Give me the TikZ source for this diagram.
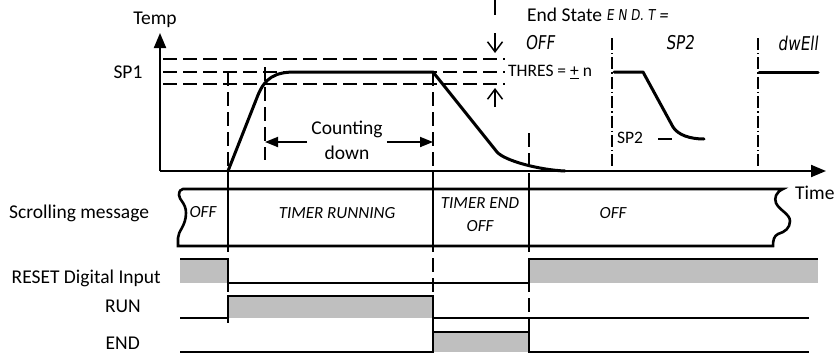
\documentclass[tikz,border=0pt]{standalone}
\usepackage{fontspec}
\setmainfont{Carlito}
\newfontfamily\segfont[FakeSlant=0.12,FakeStretch=0.8]{DejaVu Sans}
\usetikzlibrary{arrows.meta}
\begin{document}
\begin{tikzpicture}[x=1pt,y=-1pt,
  lbl/.style={font=\fontsize{19.5}{25}\selectfont, inner sep=0pt},
  small/.style={font=\fontsize{17.5}{19}\selectfont, inner sep=0pt},
  msg/.style={font=\fontsize{17}{23}\selectfont\itshape, inner sep=0pt},
  seg/.style={font=\segfont\fontsize{19}{20}\selectfont, inner sep=0pt},
  dsh/.style={line width=1.4pt, dash pattern=on 14pt off 6pt},
  dd/.style={line width=1.4pt, dash pattern=on 12pt off 3pt on 1.4pt off 3pt},
  curve/.style={line width=3pt, line join=round, line cap=round},
  sig/.style={line width=2.6pt, line join=miter},
  gfill/.style={fill=black!25, draw=none},
  axis/.style={line width=2pt, -{Triangle[length=15pt,width=12pt]}},
  barb/.style={line width=1.5pt, -{Straight Barb[length=10pt,width=15pt]}},
  cdarrow/.style={line width=1.8pt, -{Triangle[length=13pt,width=10pt]}},
]
\useasboundingbox (0,0) rectangle (835,354);

% ---------- axes ----------
\coordinate (O) at (160,171);
\coordinate (ytip) at (160,33);
\coordinate (xtip) at (826,171);
\draw[axis] (O) -- (ytip);
\draw[axis] (O) -- (xtip);
\node[lbl] (temp) at (155,20) {Temp};
\node[lbl] (sp1) at (128,72) {SP1};
\node[lbl, anchor=west] (time) at (795,193) {Time};

% ---------- threshold band ----------
\draw[dsh] (163,59) -- (505,59);
\draw[dsh] (163,72) -- (505,72);
\draw[dsh] (163,84) -- (505,84);
\node[small, anchor=west] (thres) at (508,72) {THRES = \underline{+} n};
\coordinate (tb0) at (495,0);
\coordinate (tb1) at (495,15);
\draw[line width=2.2pt] (tb0) -- (tb1);
\coordinate (da0) at (495,33);
\coordinate (da1) at (495,53);
\coordinate (ua0) at (495,107);
\coordinate (ua1) at (495,88);
\draw[barb] (da0) -- (da1);
\draw[barb] (ua0) -- (ua1);

% ---------- end state header ----------
\node[lbl, anchor=west] (es) at (527,15) {End State};
\node[seg, font=\segfont\fontsize{15}{16}\selectfont, anchor=west] (endt) at ([xshift=4pt]es.east) {E N D. T =};
\node[seg] (soff) at (540,43) {OFF};
\node[seg] (ssp2) at (680,43) {SP2};
\node[seg] (sdwell) at (798,43) {dwEll};

% ---------- vertical markers ----------
\draw[dsh] (228,72) -- (228,180);
\draw[line width=2.2pt] (228,180) -- (228,238);
\draw[dsh] (228,238) -- (228,323);
\draw[dsh] (265,67) -- (265,160);
\draw[dsh] (433,72) -- (433,180);
\draw[line width=2.2pt] (433,180) -- (433,238);
\draw[dsh] (433,238) -- (433,332);
\draw[dsh] (529,133) -- (529,180);
\draw[line width=2.2pt] (529,180) -- (529,238);
\draw[dsh] (529,238) -- (529,332);
\draw[dd] (612,38) -- (612,166);
\draw[dd] (758,38) -- (758,166);

% ---------- temperature curves ----------
\draw[curve] (228,171) -- (258,95) .. controls (265,78) and (275,72) .. (295,72)
  -- (433,72) -- (497,152) .. controls (505,161) and (540,170) .. (565,171);
\draw[curve] (614,72) -- (643,72) -- (673,127) .. controls (678,135) and (690,139) .. (704,139);
\draw[curve] (759,72) -- (818,72);
\node[small] (sp2l) at (630,138) {SP2};
\coordinate (sp2a) at (658,139);
\coordinate (sp2b) at (672,139);
\draw[line width=1.6pt] (sp2a) -- (sp2b);

% ---------- counting down ----------
\node[lbl, align=center] (cd) at (347,140) {Counting\\down};
\coordinate (cdl) at (265,142);
\coordinate (cdr) at (433,142);
\draw[cdarrow] (cd.west |- cdl) ++(-4pt,0) -- (cdl);
\draw[cdarrow] (cd.east |- cdr) ++(4pt,0) -- (cdr);

% ---------- scrolling message ----------
\node[lbl, anchor=west] (scroll) at (9,213) {Scrolling message};
\draw[sig] (183,189) -- (783,189)
  .. controls (776,192) and (774,198) .. (776,203)
  .. controls (779,210) and (790,214) .. (790,221)
  .. controls (790,228) and (785,232) .. (778,234)
  .. controls (774,236) and (773,240) .. (773,246)
  -- (178,246) -- (178,238)
  .. controls (178,231) and (186,226) .. (186,213)
  .. controls (186,203) and (179,200) .. (179,195)
  .. controls (179,191) and (181,189) .. (183,189) -- cycle;
\node[msg] (m1) at (203,212) {OFF};
\node[msg] (m2) at (337,213) {TIMER RUNNING};
\node[msg, align=center] (m3) at (480,215) {TIMER END\\OFF};
\node[msg] (m4) at (613,213) {OFF};

% ---------- RESET digital input ----------
\node[lbl, anchor=east] (reset) at (161,278) {RESET Digital Input};
\fill[gfill] (180,259) rectangle (228,283);
\fill[gfill] (529,259) rectangle (818,283);
\draw[sig] (180,259) -- (228,259) -- (228,283) -- (529,283) -- (529,259) -- (818,259);

% ---------- RUN ----------
\node[lbl, anchor=east] (run) at (141,306) {RUN};
\fill[gfill] (228,296) rectangle (433,318);
\draw[sig] (180,318) -- (228,318) -- (228,296) -- (433,296) -- (433,318) -- (809,318);

% ---------- END ----------
\node[lbl, anchor=east] (endl) at (140,343) {END};
\fill[gfill] (433,332) rectangle (529,352);
\draw[sig] (180,352) -- (433,352) -- (433,332) -- (529,332) -- (529,352) -- (809,352);
\end{tikzpicture}
\end{document}
